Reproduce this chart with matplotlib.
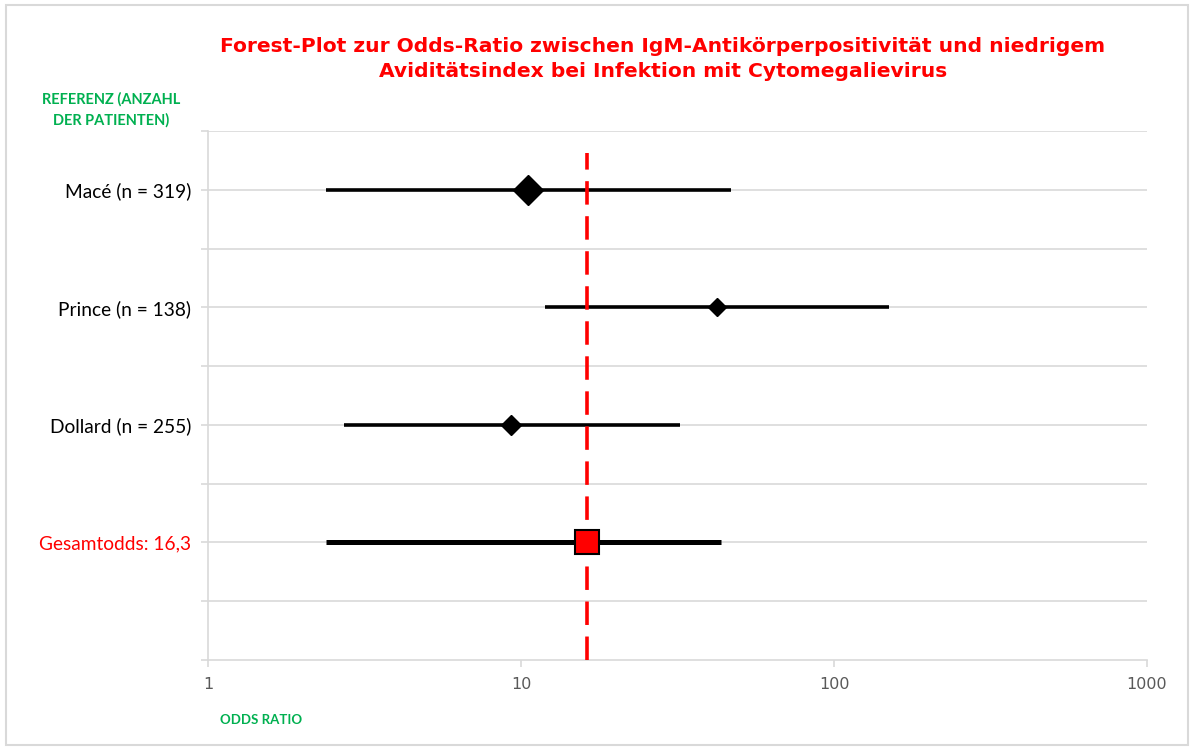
import matplotlib
matplotlib.use("Agg")
import matplotlib.pyplot as plt
from matplotlib.patches import Rectangle

# Studies, top to bottom
studies = ["Macé (n = 319)", "Prince (n = 138)", "Dollard (n = 255)"]
study_or = [10.5, 42.4, 9.3]
study_lo = [2.38, 11.9, 2.72]
study_hi = [47.0, 150.0, 32.3]
study_marker_size = [15, 9, 10.5]

pooled_label = "Gesamtodds: 16,3"
pooled_or = 16.3
pooled_lo = 2.38
pooled_hi = 43.7

x_ticks = [1, 10, 100, 1000]
x_tick_labels = ["1", "10", "100", "1000"]

title = ("Forest-Plot zur Odds-Ratio zwischen IgM-Antikörperpositivität und niedrigem\n"
         "Aviditätsindex bei Infektion mit Cytomegalievirus")

RED = "#ff0000"
GREEN = "#00b050"
GRID = "#d9d9d9"
TICKTXT = "#595959"
FONT = ["Lato", "DejaVu Sans"]

fig = plt.figure(figsize=(11.9, 7.47), dpi=100)
fig.patch.set_facecolor("white")
fig.patches.append(Rectangle((0.005, 0.003), 0.993, 0.99, transform=fig.transFigure,
                             fill=False, edgecolor=GRID, linewidth=1.5))

ax = fig.add_axes([0.1748, 0.1165, 0.7891, 0.7081])
ax.set_xscale("log")
ax.set_xlim(1, 1000)
ax.set_ylim(0, 4.5)

n = len(studies)
rows = [n + 1 - i for i in range(n)]   # 4, 3, 2
pooled_row = 1

# horizontal grid at every half row
for g in [0.5 * k for k in range(1, 10)]:
    ax.axhline(g, color=GRID, linewidth=1.2, zorder=0)

# confidence intervals and point estimates
for r, o, lo, hi, ms in zip(rows, study_or, study_lo, study_hi, study_marker_size):
    ax.plot([lo, hi], [r, r], color="black", linewidth=2.6, solid_capstyle="butt", zorder=3)
    ax.plot([o], [r], marker="D", markersize=ms, color="black", zorder=4)

ax.plot([pooled_lo, pooled_hi], [pooled_row, pooled_row], color="black", linewidth=3.6,
        solid_capstyle="butt", zorder=3)
ax.plot([pooled_or], [pooled_row], marker="s", markersize=17, markerfacecolor=RED,
        markeredgecolor="black", markeredgewidth=1.5, zorder=6)

# pooled odds ratio reference line
ax.plot([pooled_or, pooled_or], [0, 4.31], color=RED, linewidth=2.6,
        dashes=(6.5, 3.2), zorder=5)

# axes styling
for s in ["top", "right"]:
    ax.spines[s].set_visible(False)
ax.spines["left"].set_color(GRID)
ax.spines["bottom"].set_color(GRID)
ax.spines["left"].set_linewidth(1.2)
ax.spines["bottom"].set_linewidth(1.2)

ax.set_xticks(x_ticks)
ax.set_xticklabels(x_tick_labels)
ax.xaxis.set_minor_locator(matplotlib.ticker.NullLocator())
ax.tick_params(axis="x", direction="out", length=5, color=GRID, width=1.2,
               labelcolor=TICKTXT, labelsize=11.5, pad=7)
for lab in ax.get_xticklabels():
    lab.set_family(["DejaVu Sans"])

ytick_pos = [0.5 * k for k in range(0, 10)]
ax.set_yticks(ytick_pos)
label_map = {r: s for r, s in zip(rows, studies)}
label_map[pooled_row] = pooled_label
ax.set_yticklabels([label_map.get(p, "") for p in ytick_pos])
ax.tick_params(axis="y", direction="out", length=5, color=GRID, width=1.2,
               labelsize=13.8, pad=7)
for lab in ax.get_yticklabels():
    lab.set_family(FONT)
    if lab.get_text() == pooled_label:
        lab.set_color(RED)

# title and axis captions
fig.text(0.557, 0.921, title, ha="center", va="center", color=RED,
         fontsize=14.6, fontweight="bold", family=["DejaVu Sans"], linespacing=1.45)
fig.text(0.093, 0.8527, "REFERENZ (ANZAHL\nDER PATIENTEN)", ha="center", va="center",
         color=GREEN, fontsize=10.5, fontweight="bold", family=FONT, linespacing=1.52)
fig.text(0.219, 0.036, "ODDS RATIO", ha="center", va="center",
         color=GREEN, fontsize=9.5, fontweight="bold", family=FONT)

fig.savefig("out.png", dpi=100, facecolor="white")
